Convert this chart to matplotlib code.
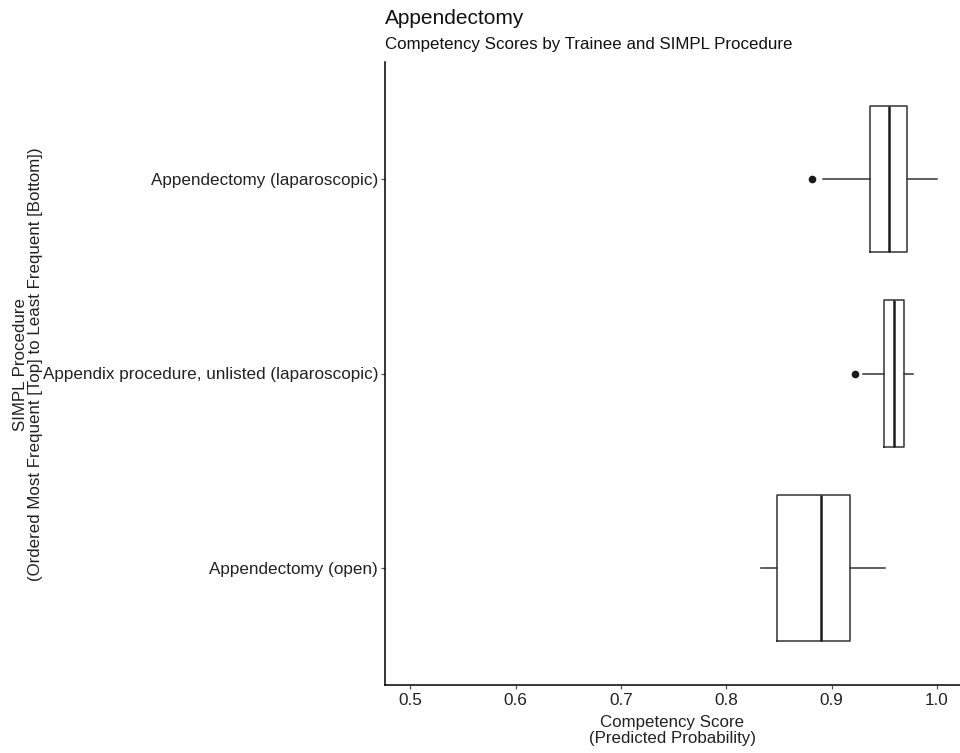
import matplotlib
matplotlib.use("Agg")
import matplotlib.pyplot as plt

plt.rcParams['font.family'] = ['Liberation Sans', 'DejaVu Sans']

# procedures, top (most frequent) to bottom
procedures = ["Appendectomy (laparoscopic)",
              "Appendix procedure, unlisted (laparoscopic)",
              "Appendectomy (open)"]

# box stats
whisk_lo = [0.8920, 0.9302, 0.8328]
q1 = [0.9365, 0.9500, 0.8478]
med = [0.9546, 0.9590, 0.8902]
q3 = [0.9720, 0.9688, 0.9176]
whisk_hi = [1.0000, 0.9773, 0.9506]
outliers = [[0.8812], [0.9223], []]

xticks = [0.5, 0.6, 0.7, 0.8, 0.9, 1.0]

stats = []
for i in range(len(procedures)):
    stats.append(dict(whislo=whisk_lo[i], q1=q1[i], med=med[i], q3=q3[i],
                      whishi=whisk_hi[i], fliers=outliers[i], label=procedures[i]))

fig = plt.figure(figsize=(9.6, 7.53), dpi=100)
ax = fig.add_axes([385 / 960, 1 - 685 / 753, (960 - 385) / 960, (685 - 62) / 753])

pos = [3, 2, 1]
ax.bxp(stats, positions=pos, vert=False, widths=0.75, showcaps=False,
       boxprops=dict(color='#333333', linewidth=1.1),
       whiskerprops=dict(color='#333333', linewidth=1.1),
       medianprops=dict(color='#1a1a1a', linewidth=1.8),
       flierprops=dict(marker='o', markerfacecolor='#1a1a1a', markeredgecolor='#1a1a1a',
                       markersize=4.5))

ax.set_xlim(0.476, 1.022)
ax.set_ylim(0.4, 3.6)
ax.set_xticks(xticks)
ax.set_xticklabels([f"{t:.1f}" for t in xticks])
ax.set_yticks(pos)
ax.set_yticklabels(procedures)
ax.tick_params(axis='both', labelsize=12.3, colors='#555555', labelcolor='#222222',
               length=3, width=0.9, pad=2)
ax.tick_params(axis='x', pad=3)
for s in ['top', 'right']:
    ax.spines[s].set_visible(False)
for s in ['left', 'bottom']:
    ax.spines[s].set_linewidth(1.1)
    ax.spines[s].set_color('black')

ax.set_xlabel("Competency Score\n(Predicted Probability)", fontsize=12.2, linespacing=1.1,
              labelpad=5, color='#222222')
fig.text(0.029, 1 - 364.5 / 753,
         "SIMPL Procedure\n(Ordered Most Frequent [Top] to Least Frequent [Bottom])",
         rotation=90, ha='center', va='center', fontsize=12.2, linespacing=1.0, color='#222222')

fig.text(385 / 960, 1 - 19 / 753, "Appendectomy", fontsize=15, ha='left', va='center',
         color='#111111')
fig.text(385 / 960, 1 - 45 / 753, "Competency Scores by Trainee and SIMPL Procedure",
         fontsize=12.2, ha='left', va='center', color='#111111')

fig.savefig("out.png", dpi=100)
